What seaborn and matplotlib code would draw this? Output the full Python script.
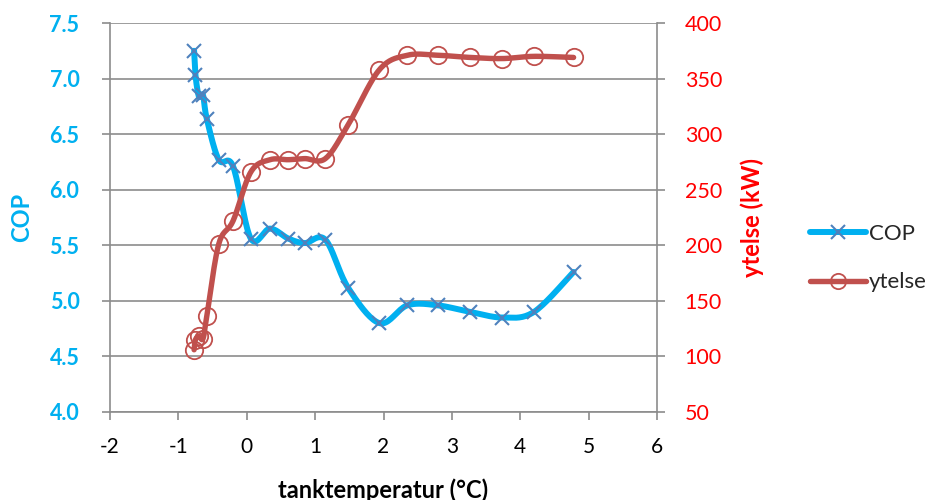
import numpy as np
import matplotlib
matplotlib.use("Agg")
import matplotlib.pyplot as plt
import seaborn as sns
from matplotlib.lines import Line2D

# ---- data ----
temp = [-0.77, -0.75, -0.70, -0.64, -0.585, -0.41, -0.20, 0.06, 0.34, 0.61, 0.85, 1.15,
        1.48, 1.94, 2.35, 2.79, 3.27, 3.74, 4.20, 4.78]
cop = [7.25, 7.03, 6.84, 6.85, 6.64, 6.27, 6.21, 5.56, 5.65, 5.56, 5.52, 5.55,
       5.12, 4.80, 4.96, 4.96, 4.90, 4.85, 4.90, 5.26]
ytelse = [106, 115, 118, 116, 136, 201, 222, 266, 277, 277, 278, 278,
          308, 358, 371, 371, 369, 368, 370, 369]
x_ticks = [-2, -1, 0, 1, 2, 3, 4, 5, 6]
cop_ticks = [4.0, 4.5, 5.0, 5.5, 6.0, 6.5, 7.0, 7.5]
yt_ticks = [50, 100, 150, 200, 250, 300, 350, 400]

COP_LINE = "#00B0F0"
COP_MARK = "#4F81BD"
YT_COL = "#C0504D"
FONT = ["Lato", "DejaVu Sans"]
FS_X = 15
FS_Y = 15.5
FS_LAB = 17
FS_LEG = 16


def smooth(xs, ys, n=20):
    """Excel-like smoothed curve (cardinal Bezier) through the points."""
    P = np.column_stack([xs, ys]).astype(float)
    out = []
    for i in range(len(P) - 1):
        p0 = P[i - 1] if i > 0 else P[i]
        p1, p2 = P[i], P[i + 1]
        p3 = P[i + 2] if i + 2 < len(P) else P[i + 1]
        c1 = p1 + (p2 - p0) / 6.0
        c2 = p2 - (p3 - p1) / 6.0
        t = np.linspace(0, 1, n, endpoint=(i == len(P) - 2))[:, None]
        seg = ((1 - t) ** 3) * p1 + 3 * ((1 - t) ** 2) * t * c1 + 3 * (1 - t) * t ** 2 * c2 + t ** 3 * p2
        out.append(seg)
    S = np.vstack(out)
    return S[:, 0], S[:, 1]


sns.set_theme(style="white")
plt.rcParams["font.family"] = FONT

fig = plt.figure(figsize=(9.35, 5.0), dpi=100)
ax = fig.add_axes([110 / 935, 88 / 500, (657 - 110) / 935, (412 - 23) / 500])
ax2 = ax.twinx()

# COP
sx, sy = smooth(temp, cop)
sns.lineplot(x=sx, y=sy, ax=ax, sort=False, estimator=None, color=COP_LINE, lw=4.3,
             solid_capstyle="round", zorder=3)
ax.plot(temp, cop, ls="none", marker="x", ms=9.5, mew=1.5, color=COP_MARK, zorder=4)

# ytelse
sx2, sy2 = smooth(temp, ytelse)
sns.lineplot(x=sx2, y=sy2, ax=ax2, sort=False, estimator=None, color=YT_COL, lw=3.9,
             solid_capstyle="round", zorder=3)
ax2.plot(temp, ytelse, ls="none", marker="o", ms=12.5, mew=1.3, mfc="none", mec=YT_COL, zorder=4)

ax.set_xlim(-2, 6)
ax.set_ylim(4.0, 7.5)
ax2.set_ylim(50, 400)
ax.set_xticks(x_ticks)
ax.set_xticklabels([str(v) for v in x_ticks])
ax.set_yticks(cop_ticks)
ax.set_yticklabels([f"{v:.1f}" for v in cop_ticks])
ax2.set_yticks(yt_ticks)
ax2.set_yticklabels([str(v) for v in yt_ticks])

for v in cop_ticks:
    ax.axhline(v, color="#8C8C8C", lw=1.2, zorder=1)

for a in (ax, ax2):
    for s in a.spines.values():
        s.set_visible(False)
    a.grid(False)
for a, side in ((ax, "left"), (ax, "bottom"), (ax2, "right")):
    a.spines[side].set_visible(True)
    a.spines[side].set_color("#8C8C8C")
    a.spines[side].set_linewidth(1.2)

ax.tick_params(axis="x", bottom=True, length=6, width=1.2, color="#8C8C8C",
               labelsize=FS_X, labelcolor="black", pad=12)
ax.tick_params(axis="y", left=True, length=6, width=1.2, color="#8C8C8C",
               labelsize=FS_Y, labelcolor=COP_LINE, pad=16)
ax2.tick_params(axis="y", right=True, length=6, width=1.2, color="#8C8C8C",
                labelsize=FS_Y, labelcolor="#FF0000", pad=14)
for lab in ax.get_yticklabels():
    lab.set_fontweight("bold")

ax.set_xlabel("tanktemperatur (°C)", fontsize=FS_LAB, fontweight="bold", color="black", va="center")
ax.xaxis.set_label_coords(0.5, (10 - 88) / 389)
ax.set_ylabel("COP", fontsize=FS_LAB, fontweight="bold", color=COP_LINE, va="center")
ax.yaxis.set_label_coords((22 - 110) / 547, 0.5)
ax2.set_ylabel("ytelse (kW)", fontsize=FS_LAB, fontweight="bold", color="#FF0000", va="center",
               rotation=90)
ax2.yaxis.set_label_coords((752 - 110) / 547, 0.5)

handles = [
    Line2D([], [], color=COP_LINE, lw=4.3, marker="x", ms=9.5, mew=1.5, mec=COP_MARK,
           solid_capstyle="round"),
    Line2D([], [], color=YT_COL, lw=3.9, marker="o", ms=11, mew=1.3, mfc="none", mec=YT_COL,
           solid_capstyle="round"),
]
fig.legend(handles, ["COP", "ytelse"], loc="center left", bbox_to_anchor=(810 / 935, 1 - 258 / 500),
           frameon=False, fontsize=FS_LEG, handlelength=2.5, handletextpad=0.15, labelspacing=1.3,
           borderpad=0, borderaxespad=0)

fig.savefig("out.png", dpi=100)
